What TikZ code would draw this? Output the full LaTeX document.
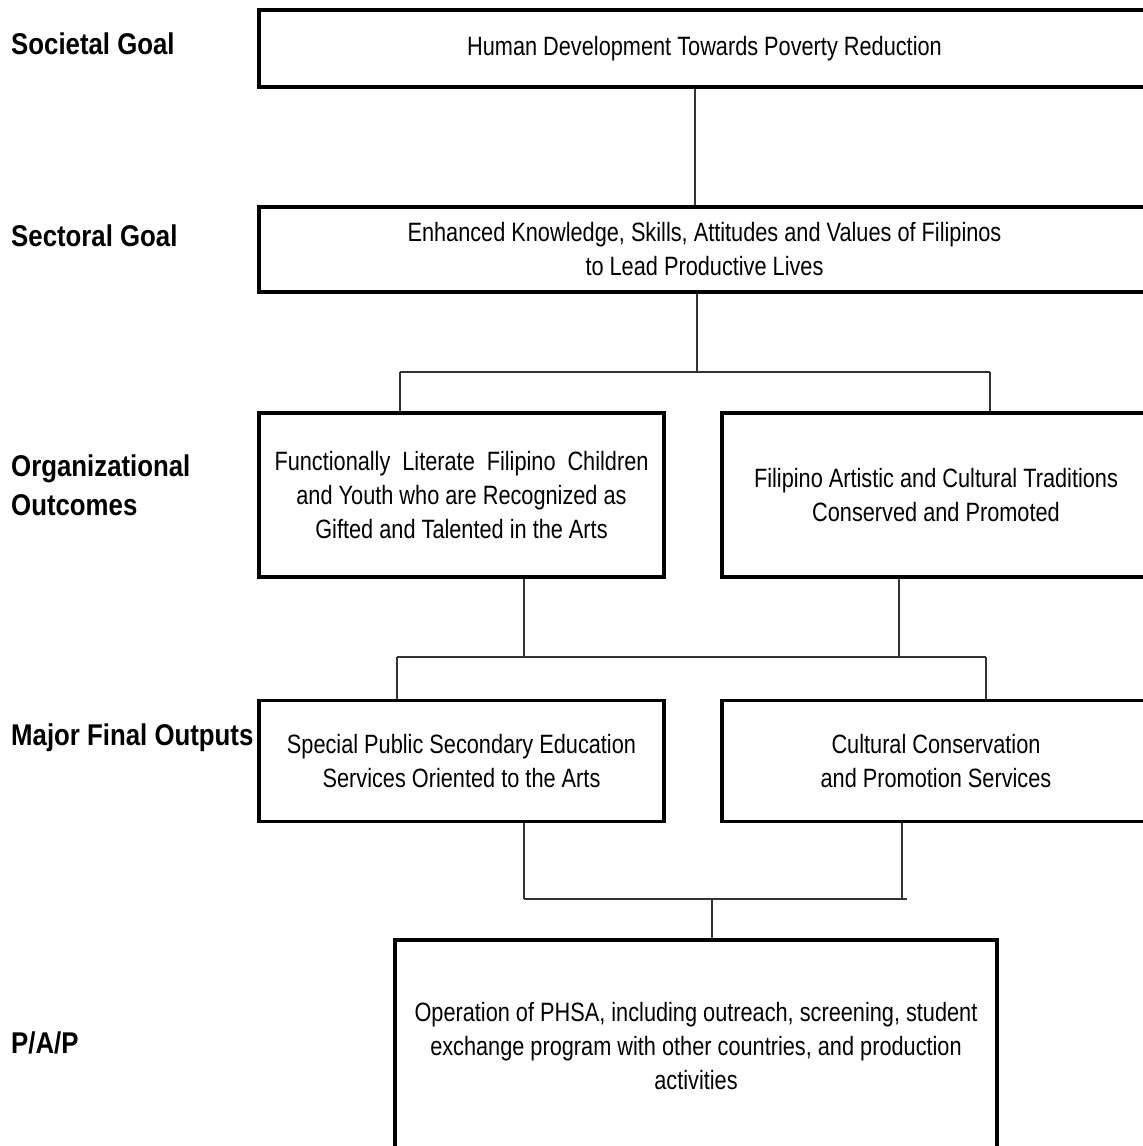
\documentclass[tikz,border=0pt]{standalone}
\usepackage{fontspec}
\setmainfont{Liberation Sans}
\newfontfamily\boxfont[FakeStretch=0.82]{Liberation Sans}
\newfontfamily\labfont[FakeStretch=0.86]{Liberation Sans Bold}
\begin{document}
\begin{tikzpicture}[x=1pt,y=-1pt,
  box/.style={draw=black, line width=3.2pt, inner sep=0pt, align=center,
    font=\boxfont\fontsize{26.5}{34}\selectfont},
  conn/.style={draw=black!80, line width=2pt},
  hconn/.style={draw=black!80, line width=1.6pt},
  lab/.style={anchor=base west, inner sep=0pt,
    font=\labfont\fontsize{30}{34}\selectfont}]
\useasboundingbox (0,0) rectangle (1143,1146);
\clip (0,0) rectangle (1143,1146);

% level labels
\node[lab] (l1) at (11,54) {Societal Goal};
\node[lab] (l2) at (11,246) {Sectoral Goal};
\node[lab] (l3a) at (11,476) {Organizational};
\node[lab] (l3b) at (11,515) {Outcomes};
\node[lab] (l4) at (11,745) {Major Final Outputs};
\node[lab] (l5) at (11,1053) {P/A/P};

% boxes
\node[box, minimum width=891pt, minimum height=77pt] (b1) at (704.5,48.5)
  {Human Development Towards Poverty Reduction};
\node[box, minimum width=891pt, minimum height=85pt] (b2) at (704.5,249.5)
  {Enhanced Knowledge, Skills, Attitudes and Values of Filipinos\\ to Lead Productive Lives};
\node[box, minimum width=405pt, minimum height=164pt] (b3L) at (461.5,495)
  {\makebox[374pt][s]{Functionally Literate Filipino Children}\\ and Youth who are Recognized as\\ Gifted and Talented in the Arts};
\node[box, minimum width=428pt, minimum height=164pt] (b3R) at (936,495)
  {Filipino Artistic and Cultural Traditions\\ Conserved and Promoted};
\node[box, minimum width=405pt, minimum height=121pt] (b4L) at (461.5,761)
  {Special Public Secondary Education\\ Services Oriented to the Arts};
\node[box, minimum width=428pt, minimum height=121pt] (b4R) at (936,761)
  {Cultural Conservation\\ and Promotion Services};
\node[box, minimum width=602pt, minimum height=212pt] (b5) at (696,1046)
  {Operation of PHSA, including outreach, screening, student\\ exchange program with other countries, and production\\ activities};

% junction points
\coordinate (v1) at (695,0);
\coordinate (h1M) at (697,372);
\coordinate (h1L) at (400,372);
\coordinate (h1R) at (990,372);
\coordinate (h2L) at (397,657);
\coordinate (h2R) at (986,657);
\coordinate (d3L) at (524,657);
\coordinate (d3R) at (899,657);
\coordinate (h3L) at (524,899);
\coordinate (h3R) at (902,899);
\coordinate (h3E) at (907,899);
\coordinate (h3M) at (712,899);

% connectors
\draw[conn] (v1 |- b1.south) -- (v1 |- b2.north);
\draw[conn] (h1M |- b2.south) -- (h1M);
\draw[hconn] (h1L) -- (h1R);
\draw[conn] (h1L) -- (h1L |- b3L.north);
\draw[conn] (h1R) -- (h1R |- b3R.north);
\draw[conn] (d3L |- b3L.south) -- (d3L);
\draw[conn] (d3R |- b3R.south) -- (d3R);
\draw[hconn] (h2L) -- (h2R);
\draw[conn] (h2L) -- (h2L |- b4L.north);
\draw[conn] (h2R) -- (h2R |- b4R.north);
\draw[conn] (h3L |- b4L.south) -- (h3L);
\draw[conn] (h3R |- b4R.south) -- (h3R);
\draw[conn, line width=2.8pt] (h3L) -- (h3E);
\draw[conn] (h3M) -- (h3M |- b5.north);
\end{tikzpicture}
\end{document}
